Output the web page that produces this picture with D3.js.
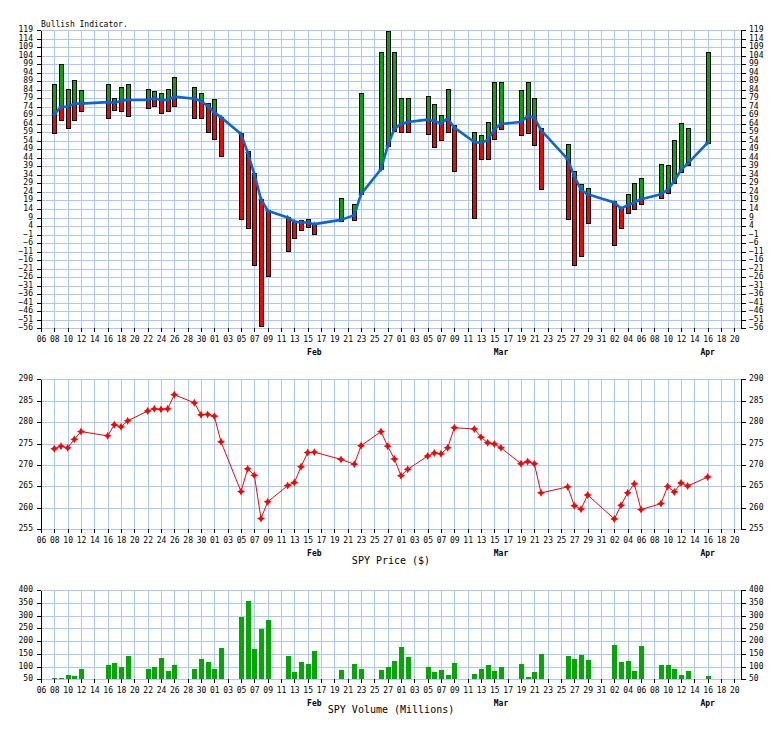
<!DOCTYPE html>
<html><head><meta charset="utf-8">
<script src="https://cdn.jsdelivr.net/npm/d3@7"></script>
<style>
body{margin:0;background:#fff}
svg{display:block}
text{font-family:"DejaVu Sans Mono",monospace;fill:#000}
</style>
</head><body>
<svg id="c" width="784" height="729"></svg>
<script>
// ---------- data ----------
const dates = [
 "2018-01-08","2018-01-09","2018-01-10","2018-01-11","2018-01-12","2018-01-16","2018-01-17","2018-01-18","2018-01-19",
 "2018-01-22","2018-01-23","2018-01-24","2018-01-25","2018-01-26","2018-01-29","2018-01-30","2018-01-31",
 "2018-02-01","2018-02-02","2018-02-05","2018-02-06","2018-02-07","2018-02-08","2018-02-09","2018-02-12","2018-02-13",
 "2018-02-14","2018-02-15","2018-02-16","2018-02-20","2018-02-22","2018-02-23","2018-02-26","2018-02-27","2018-02-28",
 "2018-03-01","2018-03-02","2018-03-05","2018-03-06","2018-03-07","2018-03-08","2018-03-09","2018-03-12","2018-03-13",
 "2018-03-14","2018-03-15","2018-03-16","2018-03-19","2018-03-20","2018-03-21","2018-03-22","2018-03-26","2018-03-27",
 "2018-03-28","2018-03-29",
 "2018-04-02","2018-04-03","2018-04-04","2018-04-05","2018-04-06","2018-04-09","2018-04-10","2018-04-11","2018-04-12",
 "2018-04-13","2018-04-16"];

const bullHigh = [
 87.5,99.2,84.6,89.4,83.6,87.5,79.1,85.7,87.5,84.6,83.4,82.2,84.6,91.6,85.7,82.2,76.4,
 78.7,67.8,58.5,48,35.4,19.7,13.5,9.4,6.6,7.6,8.4,5.1,20.7,16.8,82.2,106.2,118.3,106.2,
 79.3,79.3,80.4,75.8,69.3,84.6,63.3,59.4,57.6,65.2,88.7,88.7,83.6,88.7,79.1,61.7,52.3,36.5,28.5,26.6,
 18.4,15,22.7,29.5,32.4,40.6,39.6,54.5,64.6,61.7,106.2];

const bullAvg = [
 69.5,74,74,75.8,75.8,76.7,76.3,77.3,77.9,77.9,78.9,77.9,77.9,79.9,78.7,77.3,74.4,
 70.7,67.8,58,47.1,34.4,19.7,13,9,6.6,6.1,6.1,5.1,7.6,10.4,22.7,37.3,50.9,61,
 63.7,65,66.4,65.6,64.2,67,61.7,53.3,52.7,54.4,60.7,63.9,65,68.5,67.6,60.3,43.2,33.1,25.2,22.7,
 17.8,14.3,16.2,17.8,19.7,22.7,25.2,30.4,36.9,40.6,52.9];

const bullLow = [
 58.8,66.2,61.7,66.2,71.5,67.6,72.2,71.7,68.5,73.4,74.6,70.5,71.7,74.6,67.6,67.6,59.4,
 55.3,44.9,8.4,2.6,-19.1,-54.5,-25.6,-10.5,-3.3,1.4,3.7,-0.4,7,7.6,22.7,37.3,50.9,60,
 59.4,59.4,57.8,50.6,54.7,59.4,36.3,8.9,43.6,43.6,54.9,60.7,57.6,58.8,51.8,25.6,8.4,-18.7,-13.5,5.5,
 -7.2,2.6,11.4,13.9,16.8,20.7,23.6,29.5,35.7,40,52.9];

const spyPrice = [
 273.8,274.4,274.0,276.0,277.8,276.8,279.4,278.9,280.3,282.6,283.1,283.0,283.1,286.4,284.5,281.7,281.8,
 281.4,275.4,263.8,269.1,267.6,257.5,261.4,265.2,265.9,269.6,272.9,273.0,271.3,270.2,274.5,277.8,274.4,271.4,
 267.5,269.0,272.1,272.8,272.6,274.0,278.7,278.4,276.5,275.2,274.9,274.0,270.3,270.8,270.3,263.5,264.9,260.5,259.7,263.0,
 257.4,260.6,263.5,265.6,259.6,261.0,265.0,263.7,265.8,265.1,267.2];

const spyVolume = [
 55,55,67,63,90,106,114,98,141,90,98,133,83,106,90,130,118,
 90,173,294,357,169,247,282,141,79,118,110,161,87,110,90,87,98,122,
 177,138,98,79,87,67,114,71,90,106,83,98,110,59,79,149,141,130,145,126,
 185,118,122,83,181,106,106,90,67,83,63];

const bullTicks   = d3.range(-56, 120, 5);
const priceTicks  = [255,260,265,270,275,280,285,290];
const volumeTicks = [50,100,150,200,250,300,350,400];
const monthLabels = ["Feb","Mar","Apr"];
const monthLabelDates = ["2018-02-16","2018-03-16","2018-04-16"];

// ---------- setup ----------
const svg = d3.select("#c");
const parse = d3.utcParse("%Y-%m-%d");
const D = dates.map(parse);
const startDay = parse("2018-01-06"), endDay = parse("2018-04-21");
const x = d3.scaleUtc().domain([startDay, endDay]).range([41, 741]);
const gridDates = d3.utcDay.range(startDay, endDay, 2);
const GRID = "#aac8ff";
const px = v => Math.round(v) + 0.5;
const fmtDay = d3.utcFormat("%d");

function panel(y, ticks) {
  const g = svg.append("g");
  const [yb, yt] = y.range();
  g.append("g").selectAll("line").data(ticks).join("line")
    .attr("x1", 41).attr("x2", 741)
    .attr("y1", d => px(y(d))).attr("y2", d => px(y(d)))
    .attr("stroke", GRID).attr("shape-rendering", "crispEdges");
  g.append("g").selectAll("line").data(gridDates).join("line")
    .attr("x1", d => px(x(d))).attr("x2", d => px(x(d)))
    .attr("y1", px(yt)).attr("y2", px(yb))
    .attr("stroke", GRID).attr("shape-rendering", "crispEdges");

  const left = g.append("g").attr("transform", "translate(41,0)")
    .call(d3.axisLeft(y).tickValues(ticks).tickSize(4).tickSizeOuter(0).tickPadding(4).tickFormat(d3.format("d")));
  const right = g.append("g").attr("transform", "translate(741,0)")
    .call(d3.axisRight(y).tickValues(ticks).tickSize(5).tickSizeOuter(0).tickPadding(3).tickFormat(d3.format("d")));
  [left, right].forEach(a => {
    a.attr("font-family", null).attr("font-size", null);
    a.selectAll("path,line").attr("stroke", "#000").attr("shape-rendering", "crispEdges");
    a.selectAll("text").attr("dy", "1.5").style("font-size", "8px");
  });

  const xa = g.append("g").attr("transform", `translate(0,${yb})`)
    .call(d3.axisBottom(x).tickValues(gridDates).tickSize(4).tickSizeOuter(0).tickPadding(4).tickFormat(fmtDay));
  xa.attr("font-family", null).attr("font-size", null);
  xa.select(".domain").remove();
  xa.selectAll("line").attr("stroke", "#000").attr("shape-rendering", "crispEdges");
  xa.selectAll("text").attr("dy", null).attr("y", 14).style("font-size", "8px");

  g.append("g").selectAll("text").data(monthLabels).join("text")
    .attr("x", (d, i) => x(parse(monthLabelDates[i])))
    .attr("y", yb + 27)
    .attr("text-anchor", "middle")
    .style("font-size", "8px").style("font-weight", "bold")
    .text(d => d);
  return g;
}

// ---------- top panel: Bullish Indicator ----------
const yB = d3.scaleLinear().domain([-56, 119]).range([328.3, 30]);
panel(yB, bullTicks);
svg.append("text").attr("x", 41).attr("y", 26.5).style("font-size", "8px").text("Bullish Indicator.");

const bars = svg.append("g");
D.forEach((d, i) => {
  const cx = Math.round(x(d));
  const yh = px(yB(bullHigh[i])), ya = px(yB(bullAvg[i])), yl = px(yB(bullLow[i]));
  if (ya - yh >= 1) bars.append("rect").attr("x", cx - 1.5).attr("width", 4)
      .attr("y", yh).attr("height", ya - yh)
      .attr("fill", "#00aa00").attr("stroke", "#000").attr("shape-rendering", "crispEdges");
  if (yl - ya >= 1) bars.append("rect").attr("x", cx - 1.5).attr("width", 4)
      .attr("y", ya).attr("height", yl - ya)
      .attr("fill", "#ff0000").attr("stroke", "#000").attr("shape-rendering", "crispEdges");
});

const blue = "#0a66d0";
svg.append("path").datum(D)
  .attr("d", d3.line().x(d => x(d)).y((d, i) => yB(bullAvg[i])))
  .attr("fill", "none").attr("stroke", blue).attr("stroke-width", 2.6).attr("stroke-linejoin", "round");
const starSmall = "M0,-3L1,-1L3,0L1,1L0,3L-1,1L-3,0L-1,-1Z";
svg.append("g").selectAll("path").data(D).join("path")
  .attr("transform", (d, i) => `translate(${x(d)},${yB(bullAvg[i])})`)
  .attr("d", starSmall).attr("fill", blue);

// ---------- middle panel: SPY Price ----------
const yP = d3.scaleLinear().domain([255, 290]).range([529.3, 379.3]);
panel(yP, priceTicks);
svg.append("path").datum(D)
  .attr("d", d3.line().x(d => x(d)).y((d, i) => yP(spyPrice[i])))
  .attr("fill", "none").attr("stroke", "#ff0000").attr("stroke-width", 1);
const star = "M0,-4L1.4,-1.4L4,0L1.4,1.4L0,4L-1.4,1.4L-4,0L-1.4,-1.4Z";
svg.append("g").selectAll("path").data(D).join("path")
  .attr("transform", (d, i) => `translate(${x(d)},${yP(spyPrice[i])})`)
  .attr("d", star).attr("fill", "#ff0000");
svg.append("text").attr("x", 391).attr("y", 564).attr("text-anchor", "middle")
  .style("font-size", "10px").text("SPY Price ($)");

// ---------- bottom panel: SPY Volume ----------
const yV = d3.scaleLinear().domain([50, 400]).range([679.3, 590]);
panel(yV, volumeTicks);
svg.append("g").selectAll("rect").data(D).join("rect")
  .attr("x", d => Math.round(x(d)) - 2).attr("width", 5)
  .attr("y", (d, i) => Math.round(yV(spyVolume[i])))
  .attr("height", (d, i) => Math.round(yV(50)) - Math.round(yV(spyVolume[i])))
  .attr("fill", "#00aa00").attr("shape-rendering", "crispEdges");
svg.append("text").attr("x", 391).attr("y", 713).attr("text-anchor", "middle")
  .style("font-size", "10px").text("SPY Volume (Millions)");
</script>
</body></html>
